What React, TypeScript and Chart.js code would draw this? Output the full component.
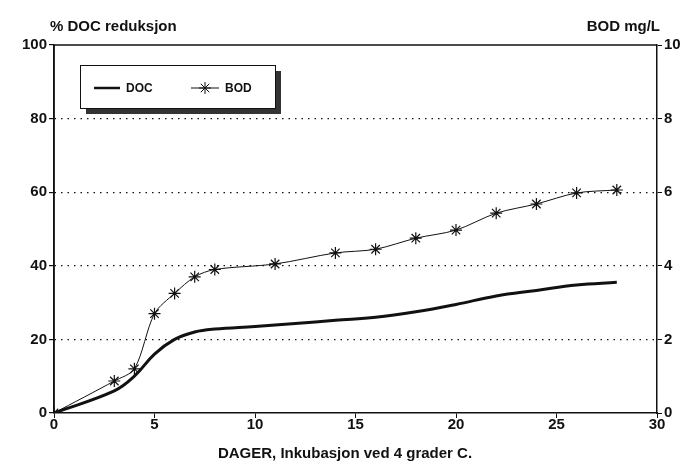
import React, { useEffect, useRef } from 'react';
import { Chart, registerables } from 'chart.js';

Chart.register(...registerables);

const docDays = [0, 3, 4, 5, 6, 7, 8, 10, 12, 14, 16, 18, 20, 22, 24, 26, 28];
const docValues = [0, 6, 10, 16, 20, 22, 22.8, 23.5, 24.3, 25.2, 26, 27.5, 29.5, 31.8, 33.3, 34.8, 35.5];
const bodDays = [0, 3, 4, 5, 6, 7, 8, 11, 14, 16, 18, 20, 22, 24, 26, 28];
const bodValues = [0, 0.87, 1.2, 2.7, 3.25, 3.7, 3.9, 4.05, 4.35, 4.45, 4.75, 4.97, 5.43, 5.68, 5.98, 6.06];

const FONT = '"Liberation Sans", Arial, sans-serif';

const decorations = {
  id: 'decorations',
  afterDraw(chart: Chart) {
    const ctx = chart.ctx;
    ctx.save();
    ctx.fillStyle = '#111';
    ctx.font = `bold 15px ${FONT}`;
    ctx.textBaseline = 'alphabetic';
    ctx.textAlign = 'left';
    ctx.fillText('% DOC reduksjon', 50, 31);
    ctx.textAlign = 'right';
    ctx.fillText('BOD mg/L', 660, 31);
    ctx.textAlign = 'center';
    ctx.fillText('DAGER, Inkubasjon ved 4 grader C.', 345, 458);

    // legend box with shadow
    const x = 80, y = 65, w = 195, h = 43;
    ctx.fillStyle = '#333';
    ctx.fillRect(x + 6, y + 6, w, h);
    ctx.fillStyle = '#fff';
    ctx.fillRect(x, y, w, h);
    ctx.strokeStyle = '#111';
    ctx.lineWidth = 1;
    ctx.strokeRect(x + 0.5, y + 0.5, w, h);
    ctx.lineWidth = 2.5;
    ctx.beginPath();
    ctx.moveTo(94, 88);
    ctx.lineTo(120, 88);
    ctx.stroke();
    ctx.lineWidth = 1;
    ctx.beginPath();
    ctx.moveTo(191, 88);
    ctx.lineTo(219, 88);
    ctx.stroke();
    // star marker
    const cx = 205, cy = 88, r = 6;
    ctx.beginPath();
    for (let i = 0; i < 4; i++) {
      const a = (i * Math.PI) / 4;
      ctx.moveTo(cx - r * Math.cos(a), cy - r * Math.sin(a));
      ctx.lineTo(cx + r * Math.cos(a), cy + r * Math.sin(a));
    }
    ctx.stroke();
    ctx.fillStyle = '#111';
    ctx.font = `bold 12px ${FONT}`;
    ctx.textAlign = 'left';
    ctx.textBaseline = 'middle';
    ctx.fillText('DOC', 126, 89);
    ctx.fillText('BOD', 225, 89);
    ctx.restore();
  },
};

const App: React.FC = () => {
  const chartRef = useRef<HTMLCanvasElement | null>(null);

  useEffect(() => {
    if (!chartRef.current) return;
    const ctx = chartRef.current.getContext('2d');
    if (!ctx) return;
    const chart = new Chart(ctx, {
      type: 'line',
      data: {
        datasets: [
          {
            label: 'DOC',
            data: docDays.map((d, i) => ({ x: d, y: docValues[i] })),
            borderColor: '#111',
            borderWidth: 3,
            tension: 0.4,
            pointRadius: 0,
            yAxisID: 'y',
          },
          {
            label: 'BOD',
            data: bodDays.map((d, i) => ({ x: d, y: bodValues[i] })),
            borderColor: '#111',
            borderWidth: 1,
            tension: 0.3,
            pointStyle: 'star',
            pointRadius: 6,
            pointBorderWidth: 1.2,
            pointBorderColor: '#111',
            pointBackgroundColor: '#111',
            yAxisID: 'y1',
          },
        ],
      },
      options: {
        animation: false,
        responsive: false,
        layout: { padding: { top: 45, right: 0, left: 0, bottom: 0 } },
        plugins: { legend: { display: false }, tooltip: { enabled: false } },
        scales: {
          x: {
            type: 'linear',
            min: 0,
            max: 30,
            afterFit: (s: any) => { s.height = 55; },
            ticks: { stepSize: 5, color: '#111', font: { family: FONT, size: 15, weight: 'bold' }, padding: -2 },
            grid: { drawOnChartArea: false, tickLength: 5, color: '#111' },
            border: { color: '#111', width: 1.5 },
          },
          y: {
            position: 'left',
            min: 0,
            max: 100,
            afterFit: (s: any) => { s.width = 54; },
            ticks: { stepSize: 20, color: '#111', font: { family: FONT, size: 15, weight: 'bold' }, padding: 2 },
            grid: {
              color: (c: any) => (c.tick && (c.tick.value === 0 || c.tick.value === 100) ? 'rgba(0,0,0,0)' : '#111'),
              tickColor: '#111',
              tickLength: 5,
              lineWidth: 1.2,
            },
            border: { color: '#111', width: 1.5, dash: [1.5, 5] },
          },
          y1: {
            position: 'right',
            min: 0,
            max: 10,
            afterFit: (s: any) => { s.width = 31; },
            ticks: { stepSize: 2, color: '#111', font: { family: FONT, size: 15, weight: 'bold' }, padding: 2 },
            grid: { drawOnChartArea: false, tickLength: 5, color: '#111' },
            border: { color: '#111', width: 1.5 },
          },
        },
      },
      plugins: [
        {
          id: 'frame',
          beforeDatasetsDraw(c: Chart) {
            const { left, right, top, bottom } = c.chartArea;
            const g = c.ctx;
            g.save();
            g.strokeStyle = '#111';
            g.lineWidth = 1.5;
            g.beginPath();
            g.moveTo(left, top);
            g.lineTo(right, top);
            g.moveTo(left, top);
            g.lineTo(left, bottom);
            g.stroke();
            g.restore();
          },
        },
        decorations,
      ],
    });
    return () => {
      chart.destroy();
    };
  }, []);

  return (
    <div style={{ position: 'absolute', left: 0, top: 0, width: 688, height: 468, background: '#fff' }}>
      <canvas ref={chartRef} width={688} height={468} />
    </div>
  );
};

export default App;
